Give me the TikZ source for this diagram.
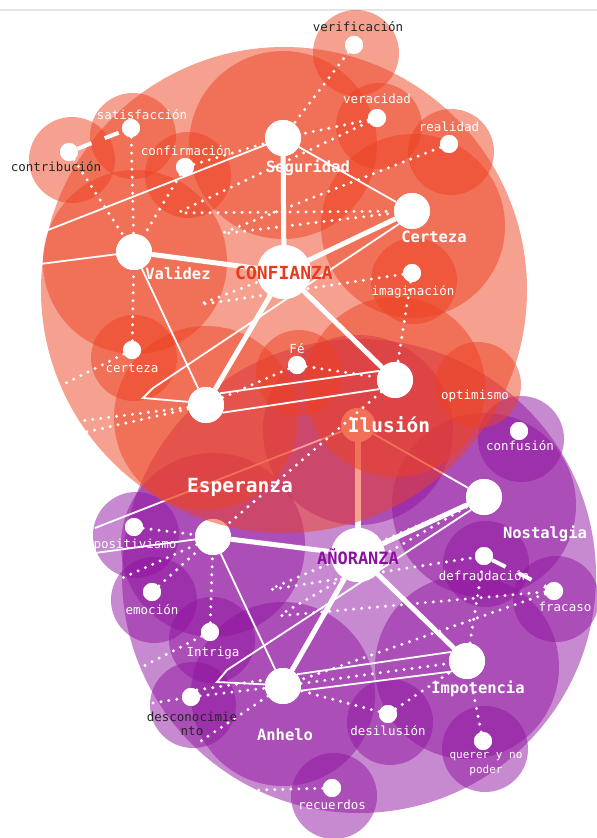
\documentclass[tikz,border=0pt]{standalone}
\usepackage{fontspec}
\setmonofont{DejaVu Sans Mono}
\definecolor{redc}{RGB}{238,66,34}
\definecolor{purp}{RGB}{145,20,160}
\definecolor{hubred}{RGB}{232,58,28}
\definecolor{hubpurp}{RGB}{140,16,160}
\definecolor{inkdark}{RGB}{38,38,38}
\definecolor{rule}{RGB}{228,228,228}

\begin{document}
\begin{tikzpicture}[x=1pt,y=-1pt,
  redbub/.style={fill=redc, fill opacity=0.5},
  purbub/.style={fill=purp, fill opacity=0.5},
  hubnode/.style={circle, fill=white, inner sep=0pt, minimum size=54pt},
  secnode/.style={circle, fill=white, inner sep=0pt, minimum size=36pt},
  bridgenode/.style={circle, fill=white, inner sep=0pt, minimum size=34pt},
  leafnode/.style={circle, fill=white, inner sep=0pt, minimum size=18pt},
  linkthick/.style={white, line width=5pt},
  linkthin/.style={white, line width=1.8pt},
  dotlink/.style={white, line width=3.3pt, line cap=round, dash pattern=on 0pt off 8pt, rounded corners=5pt},
  dashlink/.style={white, line width=4pt, dash pattern=on 15pt off 14pt},
  leaflabel/.style={font=\fontsize{12.5}{14.5}\selectfont\ttfamily, text=white, inner sep=0pt, align=center},
  darklabel/.style={leaflabel, text=inkdark},
  seclabel/.style={font=\fontsize{15.5}{17}\selectfont\ttfamily\bfseries, text=white, inner sep=0pt},
  biglabel/.style={font=\fontsize{19.5}{21}\selectfont\ttfamily\bfseries, text=white, inner sep=0pt},
]
\useasboundingbox (0,0) rectangle (597,838);
\fill[white] (0,0) rectangle (597,838);
\draw[rule, line width=1.5pt] (0,10) -- (597,10);

% ---------------- purple cluster: bubbles ----------------
\fill[purbub] (359,576) circle[radius=237pt];
\fill[purbub] (358,430) circle[radius=95pt];
\fill[purbub] (213,545) circle[radius=92pt];
\fill[purbub] (484,505) circle[radius=92pt];
\fill[purbub] (467,667) circle[radius=92pt];
\fill[purbub] (283,694) circle[radius=92pt];
\foreach \p in {(521,439),(136,535),(154,600),(212,640),(193,705),(486,564),(556,599),(390,722),(485,749),(334,796)}
  \fill[purbub] \p circle[radius=43pt];

% ---------------- purple cluster: graph ----------------
\coordinate (anorC) at (358,555);
\coordinate (espC) at (213,537);
\coordinate (nostC) at (484,497);
\coordinate (impoC) at (467,661);
\coordinate (anheC) at (283,686);
\coordinate (iluC) at (358,425);

\node[hubnode] (anor) at (anorC) {};
\node[secnode] (esp) at (espC) {};
\node[secnode] (nost) at (nostC) {};
\node[secnode] (impo) at (impoC) {};
\node[secnode] (anhe) at (anheC) {};
\node[bridgenode] (ilu) at (iluC) {};

\node[leafnode] (conf) at (519,431) {};
\node[leafnode] (posi) at (134,527) {};
\node[leafnode] (emoc) at (152,592) {};
\node[leafnode] (intr) at (210,632) {};
\node[leafnode] (desc) at (191,697) {};
\node[leafnode] (defr) at (484,556) {};
\node[leafnode] (frac) at (554,591) {};
\node[leafnode] (desi) at (388,714) {};
\node[leafnode] (quer) at (483,741) {};
\node[leafnode] (recu) at (332,788) {};

\coordinate (eEnd) at (95,553);
\coordinate (iluEnd) at (95,528);
\coordinate (eDotEnd) at (118,580);
\coordinate (intEnd) at (140,668);
\coordinate (desEnd) at (153,703);
\coordinate (anhEnd) at (195,745);
\coordinate (recEnd) at (258,790);
\coordinate (dipDef) at (268,590);
\coordinate (dipFra) at (278,616);
\coordinate (bendC) at (227,670);
\coordinate (bendD) at (217,682);

% dotted links
\draw[dotlink] (posi) -- (esp);
\draw[dotlink] (emoc) -- (esp);
\draw[dotlink] (intr) -- (esp);
\draw[dotlink] (esp) -- (eDotEnd);
\draw[dotlink] (intr) -- (intEnd);
\draw[dotlink] (desEnd) -- (desc) -- (anhe);
\draw[dotlink] (desc.50) -- (anhe.160);
\draw[dotlink] (anhe) -- (anhEnd);
\draw[dotlink] (desi) -- (anhe);
\draw[dotlink] (desi) -- (impo);
\draw[dotlink] (recu) -- (recEnd);
\draw[dotlink] (quer) -- (impo);
\draw[dotlink] (impo) -- (defr);
\draw[dotlink] (frac) -- (anhe);
\draw[dotlink] (anhe) -- (impo);
\draw[dotlink] (nost) -- (dipDef) -- (defr);
\draw[dotlink] (frac) -- (dipFra) -- (nost);
\draw[dashlink] (defr) -- (frac);
% solid links
\draw[linkthin] (esp) -- (eEnd);
\draw[linkthin] (ilu) -- (iluEnd);
\draw[linkthin] (ilu) -- (nost);
\draw[linkthin] (esp) -- (anhe);
\draw[linkthin] (nost.-135) -- (bendC) -- (bendD) -- (anhe.175);
\draw[linkthin] (anhe.40) -- (impo.150);
\draw[linkthin] (anhe.-15) -- (impo.-145);
\draw[linkthick] (anor) -- (nost);
\draw[linkthick] (anor) -- (impo);
\draw[linkthick] (anor) -- (anhe);
\draw[linkthick] (anor) -- (esp);
\draw[white, line width=6pt] (ilu) -- (anor);
% discs repainted over the ends of their links
\fill[white] (anorC) circle[radius=27pt];
\foreach \c in {espC,nostC,impoC,anheC}
  \fill[white] (\c) circle[radius=18pt];
\fill[white] (iluC) circle[radius=17pt];
\foreach \n in {conf,posi,emoc,intr,desc,defr,frac,desi,quer,recu}
  \fill[white] (\n.center) circle[radius=9pt];

% ---------------- red cluster: bubbles ----------------
\fill[redbub] (284,290) circle[radius=243pt];
\fill[redbub] (283,145) circle[radius=94pt];
\fill[redbub] (413,226) circle[radius=92pt];
\fill[redbub] (135,262) circle[radius=92pt];
\fill[redbub] (206,418) circle[radius=92pt];
\fill[redbub] (395,387) circle[radius=90pt];
\foreach \p in {(356,53),(379,126),(451,152),(133,136),(72,160),(188,175),(414,281),(134,358),(299,373),(478,385)}
  \fill[redbub] \p circle[radius=43pt];

% ---------------- red cluster: graph ----------------
\node[hubnode] (confi) at (284,272) {};
\node[secnode] (segu) at (283,138) {};
\node[secnode] (cert) at (412,211) {};
\node[secnode] (vali) at (134,252) {};
\node[secnode] (hopeA) at (206,405) {};
\node[secnode] (hopeB) at (395,380) {};

\node[leafnode] (veri) at (354,45) {};
\node[leafnode] (vera) at (377,118) {};
\node[leafnode] (real) at (449,144) {};
\node[leafnode] (sati) at (131,128) {};
\node[leafnode] (cont) at (69,152) {};
\node[leafnode] (cfrm) at (185,167) {};
\node[leafnode] (imag) at (412,273) {};
\node[leafnode] (cert2) at (132,350) {};
\node[leafnode] (fe) at (297,365) {};

\coordinate (seguEnd) at (48,230);
\coordinate (valiEnd) at (40,264);
\coordinate (cert2End) at (60,386);
\coordinate (aEndA) at (80,421);
\coordinate (aEndB) at (86,432);
\coordinate (dipVer) at (177,213);
\coordinate (dipRea) at (220,234);
\coordinate (dipIma) at (198,305);
\coordinate (bendA) at (153,388);
\coordinate (bendB) at (143,398);

% dotted links
\draw[dotlink] (sati) -- (vali);
\draw[dotlink] (cont) -- (vali);
\draw[dotlink] (cfrm) -- (vali);
\draw[dotlink] (cert2) -- (vali);
\draw[dotlink] (cert2) -- (cert2End);
\draw[dotlink] (cfrm) -- (segu);
\draw[dotlink] (veri) -- (segu);
\draw[dotlink] (vera) -- (segu);
\draw[dotlink] (vera) -- (dipVer) -- (cert);
\draw[dotlink] (real) -- (dipRea) -- (cert);
\draw[dotlink] (imag) -- (dipIma) -- (confi);
\draw[dotlink] (imag) -- (hopeB);
\draw[dotlink] (fe) -- (hopeB);
\draw[dotlink] (fe) -- (hopeA);
\draw[dotlink] (hopeA) -- (aEndA);
\draw[dotlink] (hopeA) -- (aEndB);
\draw[dotlink] (hopeB) -- (esp);
\draw[dashlink] (cont) -- (sati);
% solid links
\draw[linkthin] (segu) -- (seguEnd);
\draw[linkthin] (vali) -- (valiEnd);
\draw[linkthin] (segu) -- (cert);
\draw[linkthin] (vali) -- (hopeA);
\draw[linkthin] (cert.-135) -- (bendA) -- (bendB) -- (hopeA.170);
\draw[linkthin] (hopeA.40) -- (hopeB.150);
\draw[linkthin] (hopeA.-25) -- (hopeB.-150);
\draw[linkthick] (confi) -- (segu);
\draw[linkthick] (confi) -- (cert);
\draw[linkthick] (confi) -- (vali);
\draw[linkthick] (confi) -- (hopeA);
\draw[linkthick] (confi) -- (hopeB);
% discs repainted over the ends of their links
\fill[white] (confi.center) circle[radius=27pt];
\foreach \n in {segu,cert,vali,hopeA,hopeB}
  \fill[white] (\n.center) circle[radius=18pt];
\foreach \n in {veri,vera,real,sati,cont,cfrm,imag,cert2,fe}
  \fill[white] (\n.center) circle[radius=9pt];

% ---------------- labels ----------------
\node[darklabel] (tVeri) at (358,27) {verificación};
\node[leaflabel] (tVera) at (377,99) {veracidad};
\node[leaflabel] (tReal) at (449,127) {realidad};
\node[leaflabel] (tSati) at (142,115) {satisfacción};
\node[leaflabel] (tCfrm) at (186,151) {confirmación};
\node[darklabel] (tCont) at (56,167) {contribución};
\node[seclabel] (tSegu) at (308,168) {Seguridad};
\node[seclabel] (tCert) at (434,237) {Certeza};
\node[seclabel] (tVali) at (178,273) {Validez};
\node[font=\fontsize{18}{20}\selectfont\ttfamily\bfseries, text=hubred, inner sep=0pt] (tConfi) at (284,273) {CONFIANZA};
\node[leaflabel] (tImag) at (413,292) {imaginación};
\node[leaflabel] (tCert2) at (132,368) {certeza};
\node[leaflabel] (tFe) at (297,349) {Fé};
\node[leaflabel] (tOpti) at (475,396) {optimismo};
\node[biglabel] (tIlu) at (389,425) {Ilusión};
\node[leaflabel] (tConf) at (520,446) {confusión};
\node[biglabel] (tEsp) at (240,487) {Esperanza};
\node[seclabel] (tNost) at (545,534) {Nostalgia};
\node[font=\fontsize{17}{19}\selectfont\ttfamily\bfseries, text=hubpurp, inner sep=0pt] (tAnor) at (358,557) {AÑORANZA};
\node[leaflabel] (tPosi) at (135,545) {positivismo};
\node[leaflabel] (tDefr) at (484,576) {defraudación};
\node[leaflabel] (tFrac) at (565,607) {fracaso};
\node[leaflabel] (tEmoc) at (152,610) {emoción};
\node[leaflabel] (tIntr) at (213,653) {Intriga};
\node[seclabel] (tImpo) at (478,689) {Impotencia};
\node[darklabel] (tDesc) at (192,724) {desconocimie\\nto};
\node[leaflabel] (tDesi) at (388,731) {desilusión};
\node[seclabel] (tAnhe) at (285,735) {Anhelo};
\node[leaflabel, font=\fontsize{11}{15}\selectfont\ttfamily] (tQuer) at (486,764) {querer y no\\poder};
\node[leaflabel] (tRecu) at (332,805) {recuerdos};
\end{tikzpicture}
\end{document}
